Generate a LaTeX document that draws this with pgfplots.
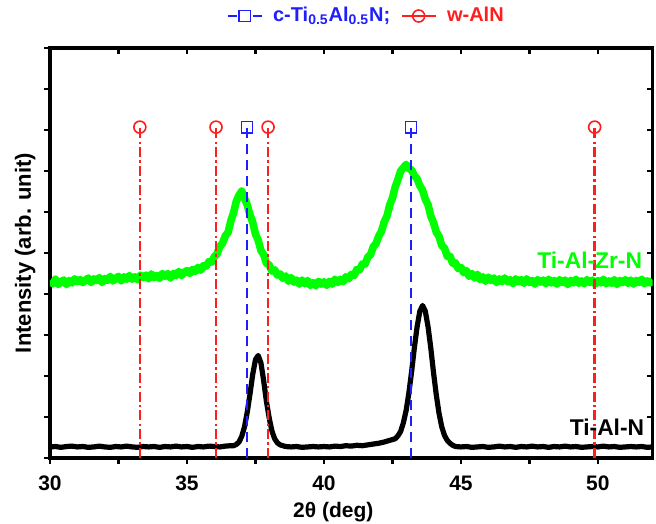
\documentclass[border=0pt]{standalone}
\usepackage{fontspec}
\setmainfont{Liberation Sans}
\usepackage{pgfplots}
\pgfplotsset{compat=1.18}
\definecolor{tgreen}{RGB}{0,255,0}
\definecolor{tred}{RGB}{255,30,30}
\definecolor{tblue}{RGB}{30,30,255}

\begin{document}
\begin{tikzpicture}
\useasboundingbox (-25pt,-32.5pt) rectangle (303pt,229pt);
\begin{axis}[
  at={(0,0)}, anchor=south west,
  width=301.35pt, height=205pt, scale only axis,
  xmin=30, xmax=52, ymin=0, ymax=10,
  xtick={30,35,...,50}, minor xtick={32.5,37.5,42.5,47.5},
  ytick={0,2,...,10}, minor ytick={1,3,...,9},
  yticklabels={},
  xtick pos=left, ytick pos=left,
  tick align=outside,
  major tick length=3pt, minor tick length=3pt,
  every tick/.style={black, line width=1.2pt},
  axis line style={line width=1.6pt},
  /pgf/number format/assume math mode=true,
  ticklabel style={font=\fontsize{10.5}{12}\selectfont\bfseries},
  xticklabel style={yshift=-2.5pt},
  xlabel={2θ (deg)},
  ylabel={Intensity (arb. unit)},
  x label style={at={(axis description cs:0.47,-0.132)}, anchor=center, font=\fontsize{10.5}{12}\selectfont\bfseries},
  y label style={at={(axis description cs:-0.041,0.5)}, anchor=center, font=\fontsize{11}{13}\selectfont\bfseries},
  legend style={at={(axis description cs:0.526,1.078)}, anchor=center, draw=none, fill=none,
    legend columns=2, font=\fontsize{10}{12}\selectfont\bfseries,
    /tikz/every even column/.append style={column sep=3pt},
    /tikz/every odd column/.append style={column sep=3pt}},
  legend cell align=left,
]

% Ti-Al-Zr-N
\addplot[tgreen, line width=3.8pt, line join=round, forget plot] coordinates {
(30.0,4.33) (30.1,4.25) (30.2,4.36) (30.3,4.23) (30.4,4.30) (30.5,4.34) (30.6,4.23) (30.7,4.33) (30.8,4.27) (30.9,4.37)
(31.0,4.30) (31.1,4.35) (31.2,4.28) (31.3,4.34) (31.4,4.39) (31.5,4.28) (31.6,4.37) (31.7,4.33) (31.8,4.40) (31.9,4.28)
(32.0,4.38) (32.1,4.33) (32.2,4.43) (32.3,4.32) (32.4,4.38) (32.5,4.43) (32.6,4.32) (32.7,4.42) (32.8,4.36) (32.9,4.45)
(33.0,4.36) (33.1,4.42) (33.2,4.35) (33.3,4.46) (33.4,4.40) (33.5,4.46) (33.6,4.37) (33.7,4.49) (33.8,4.40) (33.9,4.45)
(34.0,4.38) (34.1,4.50) (34.2,4.43) (34.3,4.50) (34.4,4.39) (34.5,4.50) (34.6,4.45) (34.7,4.55) (34.8,4.45) (34.9,4.53)
(35.0,4.57) (35.1,4.50) (35.2,4.60) (35.3,4.55) (35.4,4.65) (35.5,4.58) (35.6,4.69) (35.7,4.68) (35.8,4.79) (35.9,4.78)
(36.0,4.91) (36.1,4.98) (36.2,5.16) (36.3,5.24) (36.4,5.42) (36.5,5.50) (36.6,5.78) (36.7,5.98) (36.8,6.26) (36.9,6.41)
(37.0,6.51) (37.1,6.34) (37.2,6.17) (37.3,5.93) (37.4,5.75) (37.5,5.46) (37.6,5.31) (37.7,5.06) (37.8,4.96) (37.9,4.75)
(38.0,4.71) (38.1,4.56) (38.2,4.59) (38.3,4.46) (38.4,4.49) (38.5,4.38) (38.6,4.44) (38.7,4.31) (38.8,4.40) (38.9,4.29)
(39.0,4.34) (39.1,4.24) (39.2,4.34) (39.3,4.25) (39.4,4.33) (39.5,4.21) (39.6,4.28) (39.7,4.20) (39.8,4.31) (39.9,4.24)
(40.0,4.30) (40.1,4.21) (40.2,4.31) (40.3,4.24) (40.4,4.36) (40.5,4.28) (40.6,4.36) (40.7,4.30) (40.8,4.42) (40.9,4.37)
(41.0,4.48) (41.1,4.45) (41.2,4.60) (41.3,4.59) (41.4,4.73) (41.5,4.73) (41.6,4.90) (41.7,4.96) (41.8,5.15) (41.9,5.23)
(42.0,5.41) (42.1,5.53) (42.2,5.76) (42.3,5.90) (42.4,6.17) (42.5,6.34) (42.6,6.61) (42.7,6.79) (42.8,7.00) (42.9,7.08)
(43.0,7.16) (43.1,7.06) (43.2,7.02) (43.3,6.89) (43.4,6.81) (43.5,6.64) (43.6,6.53) (43.7,6.31) (43.8,6.18) (43.9,5.90)
(44.0,5.74) (44.1,5.51) (44.2,5.41) (44.3,5.18) (44.4,5.12) (44.5,4.92) (44.6,4.92) (44.7,4.75) (44.8,4.76) (44.9,4.62)
(45.0,4.65) (45.1,4.52) (45.2,4.57) (45.3,4.43) (45.4,4.50) (45.5,4.39) (45.6,4.48) (45.7,4.35) (45.8,4.42) (45.9,4.31)
(46.0,4.41) (46.1,4.33) (46.2,4.39) (46.3,4.28) (46.4,4.37) (46.5,4.30) (46.6,4.39) (46.7,4.30) (46.8,4.35) (46.9,4.25)
(47.0,4.37) (47.1,4.30) (47.2,4.35) (47.3,4.26) (47.4,4.37) (47.5,4.28) (47.6,4.33) (47.7,4.24) (47.8,4.35) (47.9,4.29)
(48.0,4.34) (48.1,4.25) (48.2,4.36) (48.3,4.27) (48.4,4.33) (48.5,4.24) (48.6,4.35) (48.7,4.28) (48.8,4.34) (48.9,4.23)
(49.0,4.33) (49.1,4.27) (49.2,4.36) (49.3,4.26) (49.4,4.32) (49.5,4.25) (49.6,4.35) (49.7,4.28) (49.8,4.34) (49.9,4.24)
(50.0,4.33) (50.1,4.27) (50.2,4.36) (50.3,4.25) (50.4,4.32) (50.5,4.26) (50.6,4.35) (50.7,4.23) (50.8,4.33) (50.9,4.28)
(51.0,4.35) (51.1,4.26) (51.2,4.34) (51.3,4.24) (51.4,4.33) (51.5,4.28) (51.6,4.36) (51.7,4.25) (51.8,4.32) (51.9,4.27)
(52.0,4.34)
};

% Ti-Al-N
\addplot[black, line width=2.6pt, line join=round, forget plot] coordinates {
(30.0,0.27) (30.2,0.28) (30.4,0.26) (30.6,0.28) (30.8,0.29) (31.0,0.27) (31.2,0.28) (31.4,0.26) (31.6,0.27) (31.8,0.29)
(32.0,0.27) (32.2,0.26) (32.4,0.28) (32.6,0.27) (32.8,0.29) (33.0,0.27) (33.2,0.26) (33.4,0.28) (33.6,0.27) (33.8,0.28)
(34.0,0.26) (34.2,0.28) (34.4,0.27) (34.6,0.29) (34.8,0.27) (35.0,0.28) (35.2,0.26) (35.4,0.28) (35.6,0.27) (35.8,0.29)
(36.0,0.28) (36.2,0.27) (36.4,0.29) (36.6,0.30) (36.7,0.30) (36.8,0.33) (36.9,0.39)
(37.0,0.53) (37.1,0.76) (37.2,1.12) (37.3,1.56) (37.4,2.04) (37.5,2.40) (37.6,2.50) (37.7,2.32) (37.8,1.88) (37.9,1.38)
(38.0,0.98) (38.1,0.66) (38.2,0.47) (38.3,0.37) (38.4,0.32) (38.5,0.30) (38.6,0.28) (38.8,0.27)
(39.0,0.28) (39.2,0.26) (39.4,0.27) (39.6,0.28) (39.8,0.27) (40.0,0.28) (40.2,0.27) (40.4,0.29) (40.6,0.28) (40.8,0.30)
(41.0,0.29) (41.2,0.31) (41.4,0.30) (41.6,0.32) (41.8,0.34) (42.0,0.36) (42.2,0.39) (42.4,0.43) (42.6,0.47) (42.7,0.54)
(42.8,0.65) (42.9,0.86) (43.0,1.16) (43.1,1.59) (43.2,2.11) (43.3,2.69) (43.4,3.20) (43.5,3.58) (43.6,3.72) (43.7,3.58)
(43.8,3.20) (43.9,2.68) (44.0,2.08) (44.1,1.54) (44.2,1.09) (44.3,0.76) (44.4,0.55) (44.5,0.43) (44.6,0.36) (44.7,0.31)
(44.8,0.28) (45.0,0.27) (45.2,0.28) (45.4,0.26) (45.6,0.27) (45.8,0.28) (46.0,0.26) (46.2,0.27) (46.4,0.29) (46.6,0.27)
(46.8,0.28) (47.0,0.26) (47.2,0.28) (47.4,0.27) (47.6,0.29) (47.8,0.27) (48.0,0.28) (48.2,0.26) (48.4,0.28) (48.6,0.27)
(48.8,0.29) (49.0,0.27) (49.2,0.28) (49.4,0.26) (49.6,0.27) (49.8,0.28) (50.0,0.27) (50.2,0.29) (50.4,0.27) (50.6,0.28)
(50.8,0.26) (51.0,0.27) (51.2,0.28) (51.4,0.27) (51.6,0.28) (51.8,0.26) (52.0,0.27)
};

% reference lines: c-Ti0.5Al0.5N
\addplot[tblue, line width=1.3pt, dash pattern=on 5pt off 3pt, mark=square, mark size=2.8pt,
  mark indices={2}, mark options={solid, fill=white, line width=0.8pt},
  legend image post style={dash pattern=on 4.5pt off 8pt}]
  coordinates {(37.19,0) (37.19,8.07)};
\addlegendentry{\textcolor{tblue}{c-Ti\textsubscript{0.5}Al\textsubscript{0.5}N;}}
\addplot[tblue, line width=1.3pt, dash pattern=on 5pt off 3pt, mark=square, mark size=2.8pt,
  mark indices={2}, mark options={solid, fill=white, line width=0.8pt}, forget plot]
  coordinates {(43.18,0) (43.18,8.07)};

% reference lines: w-AlN
\addplot[tred, line width=1.3pt, dash pattern=on 5pt off 1.6pt on 1.2pt off 1.6pt, mark=o, mark size=3pt,
  mark indices={2}, mark options={solid, fill=white, line width=0.8pt},
  legend image post style={solid}]
  coordinates {(33.28,0) (33.28,8.07)};
\addlegendentry{\textcolor{tred}{w-AlN}}
\addplot[tred, line width=1.3pt, dash pattern=on 5pt off 1.6pt on 1.2pt off 1.6pt, mark=o, mark size=3pt,
  mark indices={2}, mark options={solid, fill=white, line width=0.8pt}, forget plot]
  coordinates {(36.06,0) (36.06,8.07)};
\addplot[tred, line width=1.3pt, dash pattern=on 5pt off 1.6pt on 1.2pt off 1.6pt, mark=o, mark size=3pt,
  mark indices={2}, mark options={solid, fill=white, line width=0.8pt}, forget plot]
  coordinates {(37.96,0) (37.96,8.07)};
\addplot[tred, line width=1.3pt, dash pattern=on 5pt off 1.6pt on 1.2pt off 1.6pt, mark=o, mark size=3pt,
  mark indices={2}, mark options={solid, fill=white, line width=0.8pt}, forget plot]
  coordinates {(49.88,0) (49.88,8.07)};

\node[font=\fontsize{11.4}{13}\selectfont\bfseries, text=tgreen] at (axis cs:49.7,4.83) {Ti-Al-Zr-N};
\node[font=\fontsize{11.4}{13}\selectfont\bfseries, text=black] at (axis cs:50.33,0.76) {Ti-Al-N};
\end{axis}

% inward ticks on top and right
\begin{axis}[
  at={(0,0)}, anchor=south west,
  width=301.35pt, height=205pt, scale only axis,
  xmin=30, xmax=52, ymin=0, ymax=10,
  xtick={30,35,...,50}, minor xtick={32.5,37.5,42.5,47.5},
  ytick={0,2,...,10}, minor ytick={1,3,...,9},
  xticklabels={}, yticklabels={},
  xtick pos=right, ytick pos=right,
  tick align=inside,
  major tick length=3pt, minor tick length=3pt,
  every tick/.style={black, line width=1.2pt},
  axis line style={draw=none},
]
\end{axis}
\end{tikzpicture}
\end{document}
